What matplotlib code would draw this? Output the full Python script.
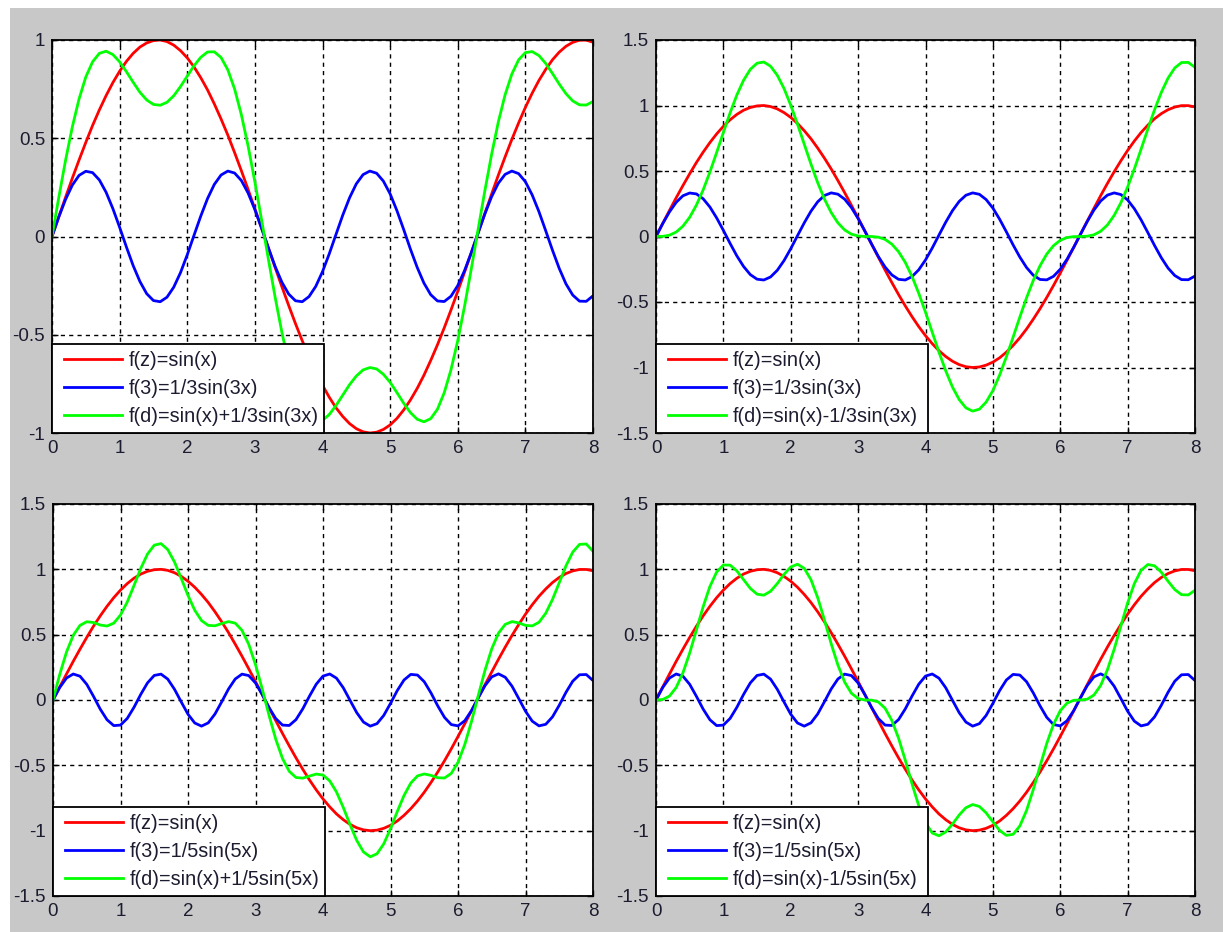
import numpy as np
import matplotlib
matplotlib.use("Agg")
import matplotlib.pyplot as plt
from matplotlib.patches import Rectangle
from matplotlib.lines import Line2D
from matplotlib.legend_handler import HandlerLine2D

# sample positions
x = [0.0, 0.1, 0.2, 0.3, 0.4, 0.5, 0.6, 0.7, 0.8, 0.9, 1.0, 1.1, 1.2, 1.3, 1.4, 1.5, 1.6, 1.7, 1.8, 1.9, 2.0,
     2.1, 2.2, 2.3, 2.4, 2.5, 2.6, 2.7, 2.8, 2.9, 3.0, 3.1, 3.2, 3.3, 3.4, 3.5, 3.6, 3.7, 3.8, 3.9, 4.0,
     4.1, 4.2, 4.3, 4.4, 4.5, 4.6, 4.7, 4.8, 4.9, 5.0, 5.1, 5.2, 5.3, 5.4, 5.5, 5.6, 5.7, 5.8, 5.9, 6.0,
     6.1, 6.2, 6.3, 6.4, 6.5, 6.6, 6.7, 6.8, 6.9, 7.0, 7.1, 7.2, 7.3, 7.4, 7.5, 7.6, 7.7, 7.8, 7.9, 8.0]

# red: sin(x)
red_vals = [0, 0.100, 0.199, 0.296, 0.389, 0.479, 0.565, 0.644, 0.717, 0.783, 0.841, 0.891, 0.932, 0.964, 0.985, 0.997, 1.000, 0.992, 0.974, 0.946, 0.909,
            0.863, 0.808, 0.746, 0.675, 0.598, 0.516, 0.427, 0.335, 0.239, 0.141, 0.042, -0.058, -0.158, -0.256, -0.351, -0.443, -0.530, -0.612, -0.688, -0.757,
            -0.818, -0.872, -0.916, -0.952, -0.978, -0.994, -1.000, -0.996, -0.982, -0.959, -0.926, -0.883, -0.832, -0.773, -0.706, -0.631, -0.551, -0.465, -0.374, -0.279,
            -0.182, -0.083, 0.017, 0.117, 0.215, 0.312, 0.405, 0.494, 0.578, 0.657, 0.729, 0.794, 0.850, 0.899, 0.938, 0.968, 0.988, 0.999, 0.999, 0.989]

# blue (top row): 1/3 sin(3x)
blue3_vals = [0, 0.099, 0.188, 0.261, 0.311, 0.332, 0.325, 0.288, 0.225, 0.142, 0.047, -0.053, -0.148, -0.229, -0.291, -0.326, -0.332, -0.309, -0.258, -0.184, -0.093,
              0.006, 0.104, 0.193, 0.265, 0.313, 0.333, 0.323, 0.285, 0.221, 0.137, 0.041, -0.058, -0.153, -0.233, -0.293, -0.327, -0.332, -0.306, -0.254, -0.179,
              -0.088, 0.011, 0.109, 0.197, 0.268, 0.315, 0.333, 0.322, 0.282, 0.217, 0.132, 0.036, -0.064, -0.157, -0.237, -0.296, -0.328, -0.331, -0.304, -0.250,
              -0.174, -0.082, 0.017, 0.114, 0.202, 0.271, 0.316, 0.333, 0.320, 0.279, 0.212, 0.127, 0.030, -0.069, -0.162, -0.241, -0.298, -0.329, -0.330, -0.302]

# blue (bottom row): 1/5 sin(5x)
blue5_vals = [0, 0.096, 0.168, 0.199, 0.182, 0.120, 0.028, -0.070, -0.151, -0.196, -0.192, -0.141, -0.056, 0.043, 0.131, 0.188, 0.198, 0.160, 0.082, -0.015, -0.109,
              -0.176, -0.200, -0.175, -0.107, -0.013, 0.084, 0.161, 0.198, 0.187, 0.130, 0.041, -0.058, -0.142, -0.192, -0.195, -0.150, -0.068, 0.030, 0.121, 0.183,
              0.199, 0.167, 0.094, -0.002, -0.097, -0.169, -0.200, -0.181, -0.118, -0.026, 0.072, 0.153, 0.196, 0.191, 0.140, 0.054, -0.045, -0.133, -0.188, -0.198,
              -0.159, -0.081, 0.017, 0.110, 0.177, 0.200, 0.174, 0.106, 0.011, -0.086, -0.162, -0.198, -0.186, -0.129, -0.040, 0.059, 0.144, 0.193, 0.195, 0.149]

# green series, one per panel
green1_vals = [0, 0.198, 0.387, 0.557, 0.700, 0.812, 0.889, 0.932, 0.943, 0.926, 0.889, 0.839, 0.785, 0.734, 0.695, 0.672, 0.668, 0.683, 0.716, 0.763, 0.816,
               0.869, 0.912, 0.939, 0.940, 0.911, 0.848, 0.751, 0.620, 0.460, 0.278, 0.083, -0.116, -0.310, -0.489, -0.644, -0.769, -0.861, -0.918, -0.942, -0.936,
               -0.906, -0.860, -0.807, -0.754, -0.710, -0.679, -0.667, -0.674, -0.701, -0.742, -0.794, -0.848, -0.896, -0.930, -0.943, -0.927, -0.879, -0.795, -0.678, -0.530,
               -0.356, -0.165, 0.034, 0.231, 0.417, 0.583, 0.721, 0.827, 0.899, 0.936, 0.941, 0.921, 0.881, 0.830, 0.776, 0.727, 0.690, 0.670, 0.669, 0.687]

green2_vals = [0, 0.001, 0.010, 0.034, 0.079, 0.147, 0.240, 0.356, 0.492, 0.641, 0.794, 0.944, 1.080, 1.193, 1.276, 1.323, 1.332, 1.300, 1.231, 1.130, 1.002,
               0.858, 0.705, 0.553, 0.411, 0.286, 0.183, 0.104, 0.050, 0.018, 0.004, 0.000, 0.000, -0.005, -0.022, -0.058, -0.116, -0.198, -0.305, -0.434, -0.578,
               -0.731, -0.883, -1.025, -1.149, -1.245, -1.308, -1.333, -1.318, -1.264, -1.176, -1.058, -0.919, -0.769, -0.615, -0.468, -0.335, -0.223, -0.134, -0.070, -0.029,
               -0.008, -0.001, 0.000, 0.002, 0.013, 0.040, 0.088, 0.161, 0.258, 0.378, 0.516, 0.667, 0.820, 0.968, 1.100, 1.209, 1.287, 1.328, 1.329, 1.291]

green3_vals = [0, 0.196, 0.367, 0.495, 0.571, 0.599, 0.593, 0.574, 0.566, 0.588, 0.650, 0.750, 0.876, 1.007, 1.117, 1.185, 1.197, 1.151, 1.056, 0.931, 0.800,
               0.687, 0.608, 0.571, 0.568, 0.585, 0.600, 0.588, 0.533, 0.426, 0.271, 0.083, -0.116, -0.300, -0.448, -0.546, -0.593, -0.598, -0.582, -0.567, -0.574,
               -0.619, -0.704, -0.822, -0.953, -1.075, -1.163, -1.200, -1.177, -1.101, -0.985, -0.854, -0.731, -0.636, -0.581, -0.566, -0.577, -0.595, -0.597, -0.562, -0.477,
               -0.341, -0.164, 0.034, 0.227, 0.392, 0.512, 0.579, 0.600, 0.590, 0.571, 0.567, 0.595, 0.664, 0.770, 0.898, 1.027, 1.132, 1.191, 1.194, 1.138]

green4_vals = [0, 0.004, 0.030, 0.096, 0.208, 0.360, 0.536, 0.714, 0.869, 0.979, 1.033, 1.032, 0.988, 0.921, 0.854, 0.810, 0.802, 0.832, 0.891, 0.961, 1.018,
               1.039, 1.008, 0.921, 0.783, 0.612, 0.431, 0.267, 0.137, 0.052, 0.011, 0.000, -0.001, -0.015, -0.063, -0.156, -0.292, -0.461, -0.642, -0.809, -0.939,
               -1.018, -1.039, -1.010, -0.950, -0.880, -0.824, -0.800, -0.815, -0.864, -0.932, -0.998, -1.036, -1.028, -0.964, -0.845, -0.685, -0.506, -0.332, -0.186, -0.082,
               -0.024, -0.002, 0.000, 0.006, 0.038, 0.112, 0.231, 0.388, 0.567, 0.743, 0.891, 0.992, 1.037, 1.027, 0.978, 0.909, 0.845, 0.806, 0.804, 0.840]

legend_labels = [
    ["f(z)=sin(x)", "f(3)=1/3sin(3x)", "f(d)=sin(x)+1/3sin(3x)"],
    ["f(z)=sin(x)", "f(3)=1/3sin(3x)", "f(d)=sin(x)-1/3sin(3x)"],
    ["f(z)=sin(x)", "f(3)=1/5sin(5x)", "f(d)=sin(x)+1/5sin(5x)"],
    ["f(z)=sin(x)", "f(3)=1/5sin(5x)", "f(d)=sin(x)-1/5sin(5x)"],
]
x_ticks = [0, 1, 2, 3, 4, 5, 6, 7, 8]
y_ticks_top_left = [-1, -0.5, 0, 0.5, 1]
y_ticks_other = [-1.5, -1, -0.5, 0, 0.5, 1, 1.5]

blues = [blue3_vals, blue3_vals, blue5_vals, blue5_vals]
greens = [green1_vals, green2_vals, green3_vals, green4_vals]

plt.rcParams['font.family'] = ['Liberation Sans', 'DejaVu Sans']
W, H = 1223, 932
fig = plt.figure(figsize=(W / 100, H / 100), dpi=100, facecolor='white')
fig.patches.append(Rectangle((10 / W, 0), 1, 1 - 8 / H, transform=fig.transFigure,
                             facecolor='#c8c8c8', edgecolor='none', zorder=-10))

# axes boxes in pixels (left, top, right, bottom)
boxes = [(52, 40, 593, 433), (656, 40, 1195, 433), (53, 504, 593, 896), (656, 504, 1195, 896)]
txt_color = '#1c1c30'
FS_TICK = 13.5
FS_LEG = 14.3

for i, (l, t, r, b) in enumerate(boxes):
    ax = fig.add_axes([l / W, 1 - b / H, (r - l) / W, (b - t) / H])
    ax.plot(x, red_vals, color='#ff0000', lw=2.0, label=legend_labels[i][0])
    ax.plot(x, blues[i], color='#0000ff', lw=2.0, label=legend_labels[i][1])
    ax.plot(x, greens[i], color='#00ff00', lw=2.0, label=legend_labels[i][2])
    ax.set_xlim(0, 8)
    yt = y_ticks_top_left if i == 0 else y_ticks_other
    ax.set_ylim(yt[0], yt[-1])
    ax.set_yticks(yt, ['%g' % v for v in yt])
    ax.set_xticks(x_ticks, [str(v) for v in x_ticks])
    ax.grid(True, color='black', linestyle=(0, (3, 3)), lw=1.0)
    ax.tick_params(direction='in', top=True, right=True, length=4, width=1,
                   labelsize=FS_TICK, labelcolor=txt_color, pad=5)
    for s in ax.spines.values():
        s.set_linewidth(1.3)
    bw = 272 / (r - l)
    bh = 90 / (b - t)
    leg = ax.legend(loc='lower left', bbox_to_anchor=(0, 0, bw, bh), mode='expand',
                    borderaxespad=0, fancybox=False, edgecolor='black', framealpha=1,
                    fontsize=FS_LEG, handlelength=3.16, handletextpad=0.35,
                    labelspacing=0.44, borderpad=0.37,
                    handler_map={Line2D: HandlerLine2D(xpad=0.22)})
    leg.get_frame().set_linewidth(1.3)
    for t_ in leg.get_texts():
        t_.set_color(txt_color)

fig.savefig('out.png', dpi=100, facecolor=fig.get_facecolor())
